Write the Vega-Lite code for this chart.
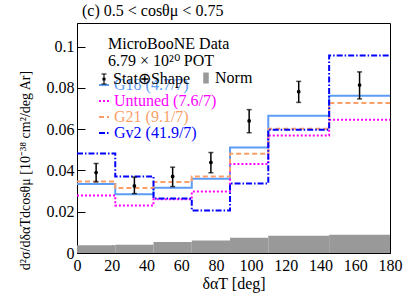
{
  "$schema": "https://vega.github.io/schema/vega-lite/v6.json",
  "width": 313,
  "height": 230,
  "autosize": "none",
  "padding": {"left": 77, "top": 23, "right": 17, "bottom": 42},
  "background": "white",
  "config": {
    "font": "Liberation Serif",
    "view": {"stroke": "black", "strokeWidth": 1},
    "axis": {
      "grid": false,
      "domainColor": "black",
      "tickColor": "black",
      "tickSize": -8,
      "labelFont": "Liberation Serif",
      "labelFontSize": 16,
      "labelColor": "black",
      "labelOverlap": false,
      "titleFont": "Liberation Serif",
      "titleFontWeight": "normal",
      "titleColor": "black"
    },
    "legend": {
      "labelFont": "Liberation Serif",
      "labelFontSize": 16,
      "labelColor": "black",
      "titleFont": "Liberation Serif",
      "titleFontSize": 16,
      "titleFontWeight": "normal",
      "titleColor": "black",
      "padding": 0
    }
  },
  "title": {
    "text": "(c) 0.5 < cosθμ < 0.75",
    "anchor": "start",
    "frame": "group",
    "dx": 5,
    "offset": 4,
    "fontSize": 16,
    "font": "Liberation Serif",
    "fontWeight": "normal",
    "color": "black"
  },
  "datasets": {
    "norm": [
      {"lo": 0, "hi": 22, "value": 0.0037, "kind": "Norm"},
      {"lo": 22, "hi": 44, "value": 0.0040, "kind": "Norm"},
      {"lo": 44, "hi": 66, "value": 0.0053, "kind": "Norm"},
      {"lo": 66, "hi": 88, "value": 0.0061, "kind": "Norm"},
      {"lo": 88, "hi": 110, "value": 0.0074, "kind": "Norm"},
      {"lo": 110, "hi": 145, "value": 0.0084, "kind": "Norm"},
      {"lo": 145, "hi": 180, "value": 0.0089, "kind": "Norm"}
    ],
    "models": [
      {"model": "G18 (4.7/7)", "lo": 0, "value": 0.0334},
      {"model": "G18 (4.7/7)", "lo": 22, "value": 0.0285},
      {"model": "G18 (4.7/7)", "lo": 44, "value": 0.0316},
      {"model": "G18 (4.7/7)", "lo": 66, "value": 0.0360},
      {"model": "G18 (4.7/7)", "lo": 88, "value": 0.0512},
      {"model": "G18 (4.7/7)", "lo": 110, "value": 0.0665},
      {"model": "G18 (4.7/7)", "lo": 145, "value": 0.0762},
      {"model": "G18 (4.7/7)", "lo": 180, "value": 0.0762},
      {"model": "Untuned (7.6/7)", "lo": 0, "value": 0.0279},
      {"model": "Untuned (7.6/7)", "lo": 22, "value": 0.0230},
      {"model": "Untuned (7.6/7)", "lo": 44, "value": 0.0260},
      {"model": "Untuned (7.6/7)", "lo": 66, "value": 0.0298},
      {"model": "Untuned (7.6/7)", "lo": 88, "value": 0.0431},
      {"model": "Untuned (7.6/7)", "lo": 110, "value": 0.0570},
      {"model": "Untuned (7.6/7)", "lo": 145, "value": 0.0646},
      {"model": "Untuned (7.6/7)", "lo": 180, "value": 0.0646},
      {"model": "G21 (9.1/7)", "lo": 0, "value": 0.0347},
      {"model": "G21 (9.1/7)", "lo": 22, "value": 0.0315},
      {"model": "G21 (9.1/7)", "lo": 44, "value": 0.0344},
      {"model": "G21 (9.1/7)", "lo": 66, "value": 0.0371},
      {"model": "G21 (9.1/7)", "lo": 88, "value": 0.0481},
      {"model": "G21 (9.1/7)", "lo": 110, "value": 0.0602},
      {"model": "G21 (9.1/7)", "lo": 145, "value": 0.0727},
      {"model": "G21 (9.1/7)", "lo": 180, "value": 0.0727},
      {"model": "Gv2 (41.9/7)", "lo": 0, "value": 0.0482},
      {"model": "Gv2 (41.9/7)", "lo": 22, "value": 0.0371},
      {"model": "Gv2 (41.9/7)", "lo": 44, "value": 0.0264},
      {"model": "Gv2 (41.9/7)", "lo": 66, "value": 0.0206},
      {"model": "Gv2 (41.9/7)", "lo": 88, "value": 0.0337},
      {"model": "Gv2 (41.9/7)", "lo": 110, "value": 0.0598},
      {"model": "Gv2 (41.9/7)", "lo": 145, "value": 0.0957},
      {"model": "Gv2 (41.9/7)", "lo": 180, "value": 0.0957}
    ],
    "data": [
      {"center": 11, "value": 0.0390, "low": 0.0345, "high": 0.0434, "kind": "Stat⊕Shape"},
      {"center": 33, "value": 0.0325, "low": 0.0288, "high": 0.0368, "kind": "Stat⊕Shape"},
      {"center": 55, "value": 0.0371, "low": 0.0322, "high": 0.0416, "kind": "Stat⊕Shape"},
      {"center": 77, "value": 0.0439, "low": 0.0389, "high": 0.0487, "kind": "Stat⊕Shape"},
      {"center": 99, "value": 0.0640, "low": 0.0583, "high": 0.0695, "kind": "Stat⊕Shape"},
      {"center": 127.5, "value": 0.0782, "low": 0.0730, "high": 0.0832, "kind": "Stat⊕Shape"},
      {"center": 162.5, "value": 0.0814, "low": 0.0747, "high": 0.0878, "kind": "Stat⊕Shape"}
    ]
  },
  "layer": [
    {
      "data": {"name": "norm"},
      "mark": {"type": "rect", "strokeWidth": 0},
      "encoding": {
        "x": {"field": "lo", "type": "quantitative",
              "scale": {"domain": [0, 180], "nice": false, "zero": false},
              "axis": {"values": [0, 20, 40, 60, 80, 100, 120, 140, 160, 180], "labelOverlap": false, "labelFlush": false, "labelPadding": 12, "titleFontSize": 16, "titlePadding": 2},
              "title": "δαT [deg]"},
        "x2": {"field": "hi"},
        "y": {"field": "value", "type": "quantitative",
              "scale": {"domain": [0, 0.1115], "nice": false, "zero": true},
              "axis": {"values": [0, 0.02, 0.04, 0.06, 0.08, 0.1], "format": ".2~f", "labelOverlap": false, "labelPadding": 11, "titleFontSize": 14, "titleX": -52, "titleY": 147, "titleBaseline": "middle"},
              "title": "d²σ/dδαTdcosθμ  [10⁻³⁸ cm²/deg Ar]"},
        "y2": {"datum": 0},
        "fill": {"field": "kind", "type": "nominal",
                 "scale": {"domain": ["Norm"], "range": ["#999999"]},
                 "legend": {"orient": "none", "legendX": 121, "legendY": 47, "title": null,
                            "symbolType": "M-0.5,-1H0.5V1H-0.5Z", "symbolSize": 121, "labelOffset": 1}}
      }
    },
    {
      "data": {"name": "models"},
      "mark": {"type": "line", "interpolate": "step-after", "strokeWidth": 2},
      "encoding": {
        "x": {"field": "lo", "type": "quantitative",
              "axis": {"values": [0, 20, 40, 60, 80, 100, 120, 140, 160, 180], "labelOverlap": false, "labelFlush": false, "labelPadding": 12, "titleFontSize": 16, "titlePadding": 2},
              "title": "δαT [deg]"},
        "y": {"field": "value", "type": "quantitative",
              "axis": {"values": [0, 0.02, 0.04, 0.06, 0.08, 0.1], "format": ".2~f", "labelOverlap": false, "labelPadding": 11, "titleFontSize": 14, "titleX": -52, "titleY": 147, "titleBaseline": "middle"},
              "title": "d²σ/dδαTdcosθμ  [10⁻³⁸ cm²/deg Ar]"},
        "stroke": {"field": "model", "type": "nominal",
                   "scale": {"domain": ["G18 (4.7/7)", "Untuned (7.6/7)", "G21 (9.1/7)", "Gv2 (41.9/7)"],
                             "range": ["#5c9cf5", "#ff00ff", "#fa9f6a", "#0000ff"]},
                   "legend": {"orient": "none", "legendX": 19, "legendY": 54, "title": null,
                              "symbolType": "stroke", "symbolSize": 100, "symbolStrokeWidth": 2,
                              "labelOffset": 2, "rowPadding": 0,
                              "encode": {"labels": {"update": {"fill": {"scale": "stroke", "field": "value"}}}}}},
        "strokeDash": {"field": "model", "type": "nominal",
                       "scale": {"domain": ["G18 (4.7/7)", "Untuned (7.6/7)", "G21 (9.1/7)", "Gv2 (41.9/7)"],
                                 "range": [[1, 0], [2, 2], [5, 3], [6, 2, 1.5, 2]]},
                       "legend": {"orient": "none", "legendX": 19, "legendY": 54, "title": null,
                                  "symbolType": "stroke", "symbolSize": 100, "symbolStrokeWidth": 2,
                                  "labelOffset": 2, "rowPadding": 0,
                                  "encode": {"labels": {"update": {"fill": {"scale": "stroke", "field": "value"}}}}}}
      }
    },
    {
      "data": {"name": "data"},
      "mark": {"type": "rule", "color": "black", "strokeWidth": 1.5},
      "encoding": {
        "x": {"field": "center", "type": "quantitative",
              "axis": {"values": [0, 20, 40, 60, 80, 100, 120, 140, 160, 180], "labelOverlap": false, "labelFlush": false, "labelPadding": 12, "titleFontSize": 16, "titlePadding": 2},
              "title": "δαT [deg]"},
        "y": {"field": "low", "type": "quantitative",
              "axis": {"values": [0, 0.02, 0.04, 0.06, 0.08, 0.1], "format": ".2~f", "labelOverlap": false, "labelPadding": 11, "titleFontSize": 14, "titleX": -52, "titleY": 147, "titleBaseline": "middle"},
              "title": "d²σ/dδαTdcosθμ  [10⁻³⁸ cm²/deg Ar]"},
        "y2": {"field": "high"}
      }
    },
    {
      "data": {"name": "data"},
      "mark": {"type": "tick", "color": "black", "orient": "horizontal", "size": 5, "thickness": 1.5},
      "encoding": {
        "x": {"field": "center", "type": "quantitative",
              "axis": {"values": [0, 20, 40, 60, 80, 100, 120, 140, 160, 180], "labelOverlap": false, "labelFlush": false, "labelPadding": 12, "titleFontSize": 16, "titlePadding": 2},
              "title": "δαT [deg]"},
        "y": {"field": "low", "type": "quantitative",
              "axis": {"values": [0, 0.02, 0.04, 0.06, 0.08, 0.1], "format": ".2~f", "labelOverlap": false, "labelPadding": 11, "titleFontSize": 14, "titleX": -52, "titleY": 147, "titleBaseline": "middle"},
              "title": "d²σ/dδαTdcosθμ  [10⁻³⁸ cm²/deg Ar]"}
      }
    },
    {
      "data": {"name": "data"},
      "mark": {"type": "tick", "color": "black", "orient": "horizontal", "size": 5, "thickness": 1.5},
      "encoding": {
        "x": {"field": "center", "type": "quantitative",
              "axis": {"values": [0, 20, 40, 60, 80, 100, 120, 140, 160, 180], "labelOverlap": false, "labelFlush": false, "labelPadding": 12, "titleFontSize": 16, "titlePadding": 2},
              "title": "δαT [deg]"},
        "y": {"field": "high", "type": "quantitative",
              "axis": {"values": [0, 0.02, 0.04, 0.06, 0.08, 0.1], "format": ".2~f", "labelOverlap": false, "labelPadding": 11, "titleFontSize": 14, "titleX": -52, "titleY": 147, "titleBaseline": "middle"},
              "title": "d²σ/dδαTdcosθμ  [10⁻³⁸ cm²/deg Ar]"}
      }
    },
    {
      "data": {"name": "data"},
      "mark": {"type": "point", "filled": true, "size": 14, "opacity": 1},
      "encoding": {
        "x": {"field": "center", "type": "quantitative",
              "axis": {"values": [0, 20, 40, 60, 80, 100, 120, 140, 160, 180], "labelOverlap": false, "labelFlush": false, "labelPadding": 12, "titleFontSize": 16, "titlePadding": 2},
              "title": "δαT [deg]"},
        "y": {"field": "value", "type": "quantitative",
              "axis": {"values": [0, 0.02, 0.04, 0.06, 0.08, 0.1], "format": ".2~f", "labelOverlap": false, "labelPadding": 11, "titleFontSize": 14, "titleX": -52, "titleY": 147, "titleBaseline": "middle"},
              "title": "d²σ/dδαTdcosθμ  [10⁻³⁸ cm²/deg Ar]"},
        "color": {"field": "kind", "type": "nominal",
                  "scale": {"domain": ["Stat⊕Shape"], "range": ["black"]},
                  "legend": {"orient": "none", "legendX": 19, "legendY": 13,
                             "title": ["\u2800MicroBooNE Data", "\u28006.79 × 10²⁰ POT"],
                             "titleLineHeight": 17, "titlePadding": 2,
                             "labelOffset": 1, "symbolSize": 121,
                             "symbolType": "M-0.1,-1H0.1V1H-0.1Z M-0.45,-1H0.45V-0.8H-0.45Z M-0.45,0.8H0.45V1H-0.45Z M-0.28,-0.25H0.28V0.25H-0.28Z"}}
      }
    }
  ]
}
